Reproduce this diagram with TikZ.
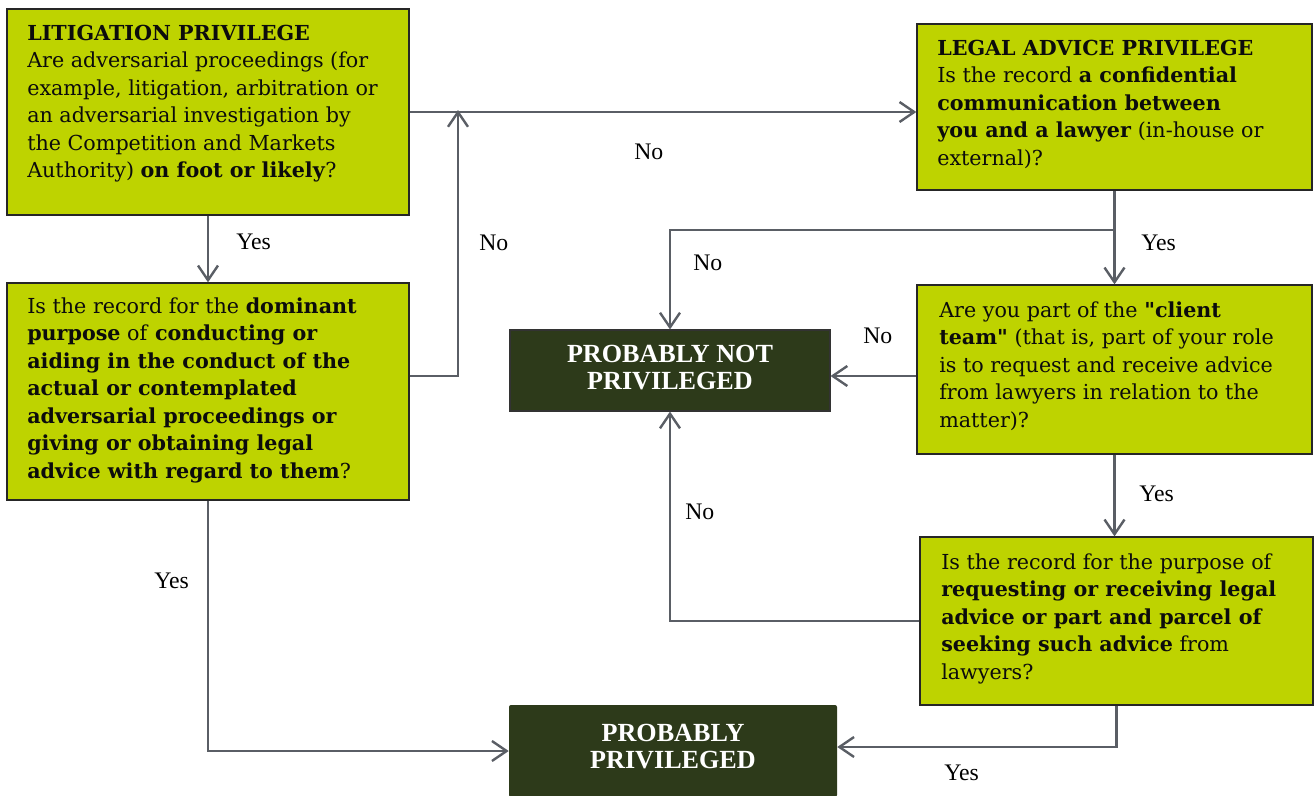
\documentclass[tikz,border=0pt]{standalone}
\usepackage{fontspec}
\setmainfont{DejaVu Serif}[Ligatures=TeXOff]
\newfontfamily\labfont{Liberation Serif}
\usetikzlibrary{arrows.meta,calc,fit}
\definecolor{limebox}{RGB}{190,211,0}
\definecolor{darkbox}{RGB}{45,58,26}
\definecolor{conn}{RGB}{90,94,101}
\definecolor{textc}{RGB}{12,12,12}
\tikzset{
  qbox/.style={draw=black!85, line width=1pt, fill=limebox, inner sep=0pt},
  dbox/.style={draw=black!80, line width=0.8pt, fill=darkbox, inner sep=0pt},
  ptxt/.style={anchor=north west, inner sep=0pt, align=left, text=textc,
    font=\fontsize{15.5pt}{20.6pt}\selectfont},
  dtxt/.style={inner sep=0pt, align=center, text=white,
    font=\labfont\bfseries\fontsize{19.6pt}{20.25pt}\selectfont},
  lab/.style={anchor=base west, inner sep=0pt, text=black,
    font=\labfont\fontsize{17.8pt}{19pt}\selectfont},
  conline/.style={draw=conn, line width=1.8pt},
  arr/.style={conline, -{Straight Barb[length=11pt,width=15pt,line width=1.8pt]}}
}
\newcommand{\fl}{\rule{0pt}{12.5pt}}
\begin{document}
\begin{tikzpicture}[x=0.75pt,y=-0.75pt]
\useasboundingbox (0,0) rectangle (1315,796);

% boxes
\node[qbox, fit={(7,9) (409,215)}] (lp) {};
\node[qbox, fit={(7,283) (409,500)}] (dp) {};
\node[qbox, fit={(917,24) (1312,190)}] (lap) {};
\node[qbox, fit={(917,285) (1312,454)}] (ct) {};
\node[qbox, fit={(920,537) (1313,705)}] (pu) {};
\node[dbox, fit={(510,330) (830,411)}] (pnp) {};
\node[draw=none, fill=darkbox, rounded corners=1.5pt, inner sep=0pt, fit={(509,705) (837,797)}] (pp) {};

% box texts
\node[ptxt] (lpt) at (27,23.3) {\fl\textbf{LITIGATION PRIVILEGE}\\
Are adversarial proceedings (for\\
example, litigation, arbitration or\\
an adversarial investigation by\\
the Competition and Markets\\
Authority) \textbf{on foot or likely}?};

\node[ptxt] (dpt) at (27,296.3) {\fl Is the record for the \textbf{dominant}\\
\textbf{purpose} of \textbf{conducting or}\\
\textbf{aiding in the conduct of the}\\
\textbf{actual or contemplated}\\
\textbf{adversarial proceedings or}\\
\textbf{giving or obtaining legal}\\
\textbf{advice with regard to them}?};

\node[ptxt] (lapt) at (937,38.3) {\fl\textbf{LEGAL ADVICE PRIVILEGE}\\
Is the record \textbf{a confidential}\\
\textbf{communication between}\\
\textbf{you and a lawyer} (in-house or\\
external)?};

\node[ptxt] (ctt) at (939,300.3) {\fl Are you part of the \textbf{"client}\\
\textbf{team"} (that is, part of your role\\
is to request and receive advice\\
from lawyers in relation to the\\
matter)?};

\node[ptxt] (put) at (941,552.3) {\fl Is the record for the purpose of\\
\textbf{requesting or receiving legal}\\
\textbf{advice or part and parcel of}\\
\textbf{seeking such advice} from\\
lawyers?};

\node[dtxt] (pnpt) at (670,368) {PROBABLY NOT\\PRIVILEGED};
\node[dtxt] (ppt) at (673,746.5) {PROBABLY\\PRIVILEGED};

% helper coordinates
\coordinate (j1) at (458,110);
\coordinate (y376) at (0,376);
\coordinate (y230) at (0,230);

% connectors
\draw[arr] (lp.south) -- (dp.north);
\draw[arr] (lp.east) -- (lap.west |- lp.east);
\draw[arr] (dp.east |- y376) -| (j1);
\draw[arr] (lap.south) -- (lap.south |- ct.north);
\draw[arr] (lap.south |- y230) -| (pnp.north);
\draw[arr] (ct.west |- y376) -- (pnp.east |- y376);
\draw[arr] (ct.south) -- (ct.south |- pu.north);
\draw[arr] (pu.west) -| (pnp.south);
\draw[arr] (pu.south) |- ([yshift=3pt]pp.east);
\draw[arr] (dp.south) |- (pp.west);

% labels
\node[lab] (l1) at (236,249) {Yes};
\node[lab] (l2) at (634,159) {No};
\node[lab] (l3) at (479,250) {No};
\node[lab] (l4) at (1141,250) {Yes};
\node[lab] (l5) at (693,270) {No};
\node[lab] (l6) at (863,343) {No};
\node[lab] (l7) at (1139,501) {Yes};
\node[lab] (l8) at (685,519) {No};
\node[lab] (l9) at (944,780) {Yes};
\node[lab] (l10) at (154,588) {Yes};
\end{tikzpicture}
\end{document}
